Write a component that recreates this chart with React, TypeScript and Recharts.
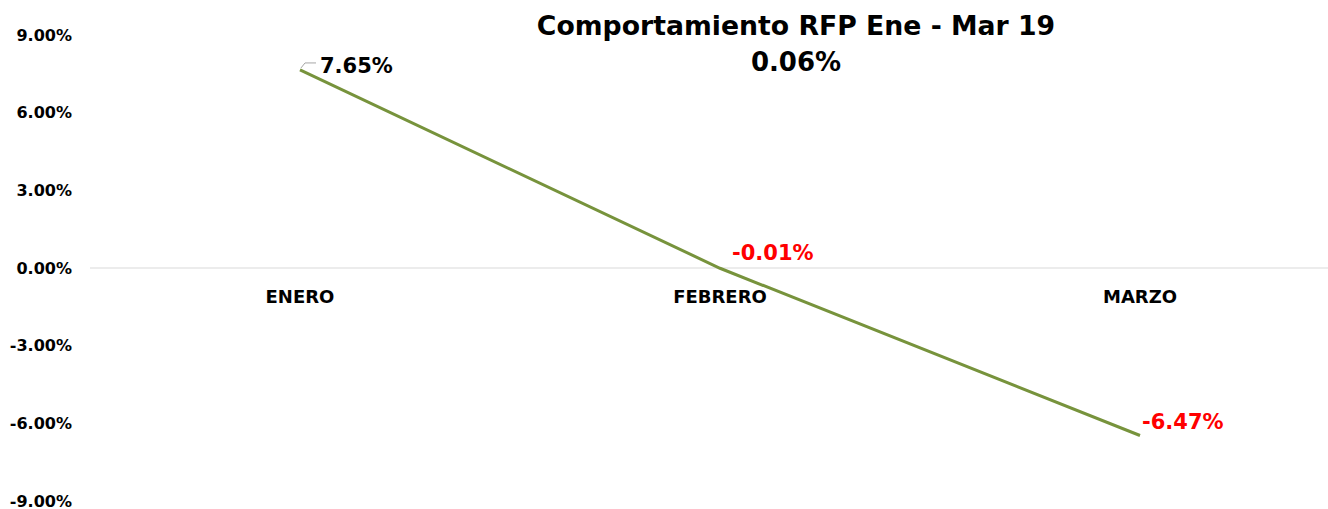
import { LineChart, Line, XAxis, YAxis, ReferenceLine, LabelList } from 'recharts'

const months = ['ENERO', 'FEBRERO', 'MARZO']
const rfpValues = [7.65, -0.01, -6.47]
const yTicks = [-9, -6, -3, 0, 3, 6, 9]
const titleLine = 'Comportamiento RFP Ene - Mar 19'
const totalLabel = '0.06%'

const data = months.map((m, i) => ({ month: m, value: rfpValues[i] }))

const FONT = '"DejaVu Sans", "Liberation Sans", sans-serif'
const labelOffsets = [
  { dx: 20, dy: -4 },
  { dx: 12, dy: -15 },
  { dx: 2, dy: -14 },
]

const fmt = (v: number) => v.toFixed(2) + '%'

const MonthTick = ({ x, y, payload }: any) => (
  <text
    x={x}
    y={y - 207}
    textAnchor="middle"
    dominantBaseline="central"
    fontFamily={FONT}
    fontWeight={700}
    fontSize={18}
    fill="#000"
  >
    {payload.value}
  </text>
)

const PointLabel = (props: any) => {
  const { x, y, index, value } = props
  const off = labelOffsets[index] || { dx: 4, dy: -8 }
  return (
    <g>
      {index === 0 && (
        <path
          d={`M${x + 1},${y - 2} L${x + 5},${y - 7} L${x + 16},${y - 7}`}
          stroke="#a6a6a6"
          strokeWidth={1}
          fill="none"
        />
      )}
      <text
        x={x + off.dx}
        y={y + off.dy}
        dominantBaseline="central"
        fontFamily={FONT}
        fontWeight={700}
        fontSize={21}
        fill={value < 0 ? '#ff0000' : '#000'}
      >
        {fmt(value)}
      </text>
    </g>
  )
}

export default function App() {
  return (
    <div
      style={{
        position: 'absolute',
        top: 0,
        left: 0,
        width: 1328,
        height: 509,
        background: '#fff',
        fontFamily: FONT,
        overflow: 'hidden',
      }}
    >
      <div
        style={{
          position: 'absolute',
          left: 496,
          top: 8,
          width: 600,
          textAlign: 'center',
          fontWeight: 700,
          lineHeight: '36px',
          color: '#000',
          zIndex: 2,
        }}
      >
        <div style={{ fontSize: 26.7 }}>{titleLine}</div>
        <div style={{ fontSize: 26 }}>{totalLabel}</div>
      </div>
      <LineChart width={1328} height={509} data={data} margin={{ top: 35, right: 0, bottom: 7, left: 0 }}>
        <XAxis
          dataKey="month"
          axisLine={false}
          tickLine={false}
          tickSize={0}
          height={1}
          padding={{ left: 210, right: 188 }}
          tick={<MonthTick />}
          interval={0}
        />
        <YAxis
          domain={[-9, 9]}
          ticks={yTicks}
          width={90}
          axisLine={false}
          tickLine={false}
          tickSize={0}
          tickMargin={18}
          tickFormatter={fmt}
          tick={{ fontFamily: FONT, fontWeight: 700, fontSize: 16, fill: '#000' }}
          interval={0}
        />
        <ReferenceLine y={0} stroke="#d9d9d9" strokeWidth={1} />
        <Line
          type="linear"
          dataKey="value"
          stroke="#77933c"
          strokeWidth={3}
          dot={false}
          isAnimationActive={false}
        >
          <LabelList dataKey="value" content={<PointLabel />} />
        </Line>
      </LineChart>
    </div>
  )
}
